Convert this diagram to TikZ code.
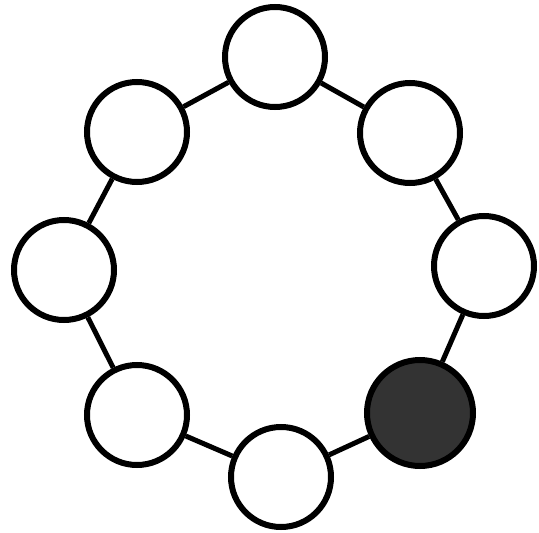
\documentclass[tikz,border=0pt]{standalone}
\begin{document}
\begin{tikzpicture}[x=1pt,y=-1pt,
  ring/.style={circle,draw=black,line width=6pt,minimum size=100pt,inner sep=0pt},
  full/.style={ring,fill=black!80,minimum size=106pt},
  link/.style={draw=black,line width=5pt}]
\useasboundingbox (0,0) rectangle (539,533);
\node[ring] (n1) at (275,57) {};
\node[ring] (n2) at (410,133) {};
\node[ring] (n3) at (484,266) {};
\node[full] (n4) at (420,413) {};
\node[ring] (n5) at (281,477) {};
\node[ring] (n6) at (137,415) {};
\node[ring] (n7) at (64,270) {};
\node[ring] (n8) at (137,132) {};
\path[link] (n1) -- (n2);
\path[link] (n2) -- (n3);
\path[link] (n3) -- (n4);
\path[link] (n4) -- (n5);
\path[link] (n5) -- (n6);
\path[link] (n6) -- (n7);
\path[link] (n7) -- (n8);
\path[link] (n8) -- (n1);
\end{tikzpicture}
\end{document}
